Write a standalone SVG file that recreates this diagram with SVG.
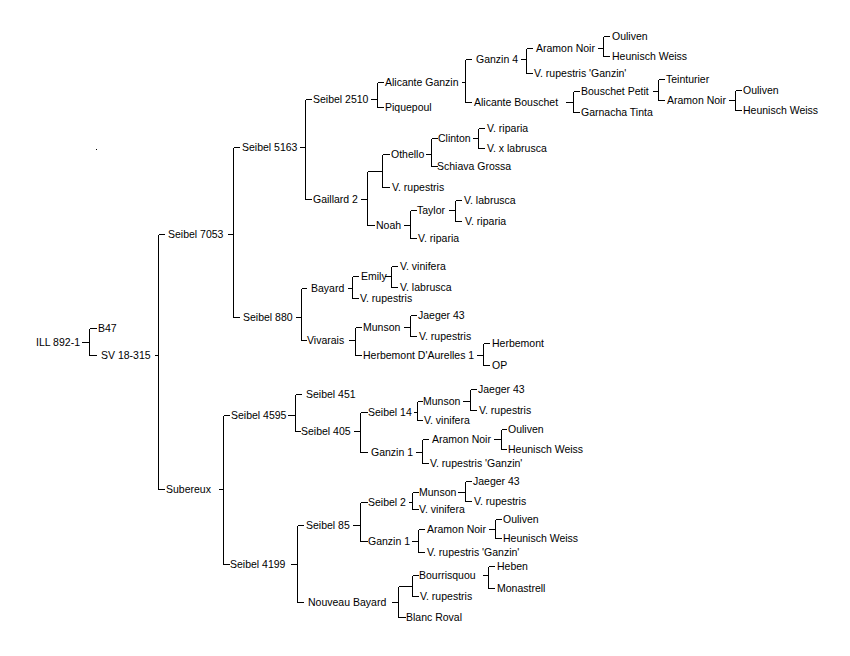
<svg xmlns="http://www.w3.org/2000/svg" width="850" height="656" viewBox="0 0 850 656">
<style>
text{font-family:"Liberation Sans",Arial,sans-serif;font-size:10.5px;fill:#000}
.c path{fill:none;stroke:#000;stroke-width:1;shape-rendering:crispEdges}
</style>
<rect width="850" height="656" fill="#fff"/>
<rect x="96" y="149" width="1" height="1" fill="#000"/>
<g class="c" id="connectors" transform="translate(0.5,0.5)">
<path d="M81 342H89M89 328V355M89 328H96M89 355H96"/>
<path d="M154 355H158M158 234V489M158 234H164M158 489H164"/>
<path d="M227 234H233M233 147V317M233 147H239M233 317H239"/>
<path d="M299 147H305M305 99V199M305 99H311M305 199H311"/>
<path d="M370 99H377M377 82V107M377 82H383M377 107H383"/>
<path d="M461 82H465M465 59V102M465 59H471M465 102H471"/>
<path d="M520 59H526M526 48V73M526 48H532M526 73H532"/>
<path d="M597 48H603M603 36V56M603 36H609M603 56H609"/>
<path d="M565 102H573M573 91V112M573 91H579M573 112H579"/>
<path d="M652 91H658M658 79V100M658 79H664M658 100H664"/>
<path d="M728 100H735M735 90V110M735 90H741M735 110H741"/>
<path d="M360 199H367M367 171V225M367 171H382M382 154V187M382 154H389M382 187H389M367 225H374"/>
<path d="M425 154H431M431 138V166M431 138H437M431 166H437"/>
<path d="M472 138H478M478 128V148M478 128H484M478 148H484"/>
<path d="M403 225H410M410 210V238M410 210H416M410 238H416"/>
<path d="M448 210H455M455 200V221M455 200H461M455 221H461"/>
<path d="M295 317H301M301 288V340M301 288H306M301 340H306"/>
<path d="M347 288H352M352 276V298M352 276H358M352 298H358"/>
<path d="M384 276H391M391 266V287M391 266H397M391 287H397"/>
<path d="M348 340H355M355 327V355M355 327H361M355 355H361"/>
<path d="M403 327H410M410 315V336M410 315H416M410 336H416"/>
<path d="M476 355H483M483 343V365M483 343H489M483 365H489"/>
<path d="M218 489H223M223 415V564M223 415H229M223 564H229"/>
<path d="M287 415H295M295 394V431M295 394H301M295 431H300"/>
<path d="M353 431H360M360 412V452M360 412H367M360 452H367"/>
<path d="M413 412H417M417 401V420M417 401H422M417 420H422"/>
<path d="M462 401H470M470 389V410M470 389H476M470 410H476"/>
<path d="M415 452H422M422 439V463M422 439H428M422 463H428"/>
<path d="M493 439H501M501 429V449M501 429H506M501 449H506"/>
<path d="M290 564H297M297 525V602M297 525H303M297 602H303"/>
<path d="M352 525H360M360 502V541M360 502H367M360 541H367"/>
<path d="M408 502H412M412 492V509M412 492H418M412 509H418"/>
<path d="M457 492H465M465 481V501M465 481H471M465 501H471"/>
<path d="M411 541H418M418 529V552M418 529H424M418 552H424"/>
<path d="M488 529H495M495 519V538M495 519H501M495 538H501"/>
<path d="M391 602H398M398 586V617M398 586H412M412 575V596M412 575H418M412 596H418M398 617H405"/>
<path d="M482 575H488M488 566V588M488 566H494M488 588H494"/>
</g>
<g id="n_ill"><text x="36" y="346">ILL 892-1</text></g>
<g id="n_b47"><text x="98" y="332">B47</text></g>
<g id="n_sv"><text x="101" y="359">SV 18-315</text></g>
<g id="n_s7053"><text x="168" y="238">Seibel 7053</text></g>
<g id="n_sub"><text x="166" y="493">Subereux</text></g>
<g id="n_s5163"><text x="242" y="151">Seibel 5163</text></g>
<g id="n_s880"><text x="243" y="321">Seibel 880</text></g>
<g id="n_s2510"><text x="313" y="103">Seibel 2510</text></g>
<g id="n_gail"><text x="313" y="203">Gaillard 2</text></g>
<g id="n_alig"><text x="385" y="86">Alicante Ganzin</text></g>
<g id="n_piq"><text x="385" y="111">Piquepoul</text></g>
<g id="n_g4"><text x="476" y="63">Ganzin 4</text></g>
<g id="n_an1"><text x="536" y="52">Aramon Noir</text></g>
<g id="n_ou1"><text x="612" y="40">Ouliven</text></g>
<g id="n_hw1"><text x="612" y="60">Heunisch Weiss</text></g>
<g id="n_vrg1"><text x="534" y="77">V. rupestris 'Ganzin'</text></g>
<g id="n_alib"><text x="474" y="106">Alicante Bouschet</text></g>
<g id="n_bp"><text x="581" y="95">Bouschet Petit</text></g>
<g id="n_tein"><text x="666" y="83">Teinturier</text></g>
<g id="n_an2"><text x="667" y="104">Aramon Noir</text></g>
<g id="n_ou2"><text x="743" y="94">Ouliven</text></g>
<g id="n_hw2"><text x="743" y="114">Heunisch Weiss</text></g>
<g id="n_gt"><text x="581" y="116">Garnacha Tinta</text></g>
<g id="n_oth"><text x="391" y="158">Othello</text></g>
<g id="n_clin"><text x="438" y="142">Clinton</text></g>
<g id="n_vrip1"><text x="487" y="132">V. riparia</text></g>
<g id="n_vxl"><text x="487" y="152">V. x labrusca</text></g>
<g id="n_sg"><text x="437" y="170">Schiava Grossa</text></g>
<g id="n_vrup1"><text x="392" y="191">V. rupestris</text></g>
<g id="n_noah"><text x="376" y="229">Noah</text></g>
<g id="n_tay"><text x="417" y="214">Taylor</text></g>
<g id="n_vlab1"><text x="464" y="204">V. labrusca</text></g>
<g id="n_vrip2"><text x="465" y="225">V. riparia</text></g>
<g id="n_vrip3"><text x="418" y="242">V. riparia</text></g>
<g id="n_bay"><text x="311" y="292">Bayard</text></g>
<g id="n_emily"><text x="361" y="280">Emily</text></g>
<g id="n_vvin1"><text x="400" y="270">V. vinifera</text></g>
<g id="n_vlab2"><text x="400" y="291">V. labrusca</text></g>
<g id="n_vrup2"><text x="360" y="302">V. rupestris</text></g>
<g id="n_viv"><text x="307" y="344">Vivarais</text></g>
<g id="n_mun1"><text x="363" y="331">Munson</text></g>
<g id="n_j1"><text x="418" y="319">Jaeger 43</text></g>
<g id="n_vrup3"><text x="419" y="340">V. rupestris</text></g>
<g id="n_hda"><text x="363" y="359">Herbemont D'Aurelles 1</text></g>
<g id="n_herb"><text x="492" y="347">Herbemont</text></g>
<g id="n_op"><text x="492" y="369">OP</text></g>
<g id="n_s4595"><text x="231" y="419">Seibel 4595</text></g>
<g id="n_s451"><text x="306" y="398">Seibel 451</text></g>
<g id="n_s405"><text x="301" y="435">Seibel 405</text></g>
<g id="n_s14"><text x="368" y="416">Seibel 14</text></g>
<g id="n_mun2"><text x="423" y="405">Munson</text></g>
<g id="n_j2"><text x="478" y="393">Jaeger 43</text></g>
<g id="n_vrup4"><text x="479" y="414">V. rupestris</text></g>
<g id="n_vvin2"><text x="424" y="424">V. vinifera</text></g>
<g id="n_g1a"><text x="371" y="456">Ganzin 1</text></g>
<g id="n_an3"><text x="432" y="443">Aramon Noir</text></g>
<g id="n_ou3"><text x="508" y="433">Ouliven</text></g>
<g id="n_hw3"><text x="508" y="453">Heunisch Weiss</text></g>
<g id="n_vrg2"><text x="430" y="467">V. rupestris 'Ganzin'</text></g>
<g id="n_s4199"><text x="230" y="568">Seibel 4199</text></g>
<g id="n_s85"><text x="306" y="529">Seibel 85</text></g>
<g id="n_s2"><text x="368" y="506">Seibel 2</text></g>
<g id="n_mun3"><text x="419" y="496">Munson</text></g>
<g id="n_j3"><text x="473" y="485">Jaeger 43</text></g>
<g id="n_vrup5"><text x="474" y="505">V. rupestris</text></g>
<g id="n_vvin3"><text x="419" y="513">V. vinifera</text></g>
<g id="n_g1b"><text x="368" y="545">Ganzin 1</text></g>
<g id="n_an4"><text x="427" y="533">Aramon Noir</text></g>
<g id="n_ou4"><text x="503" y="523">Ouliven</text></g>
<g id="n_hw4"><text x="503" y="542">Heunisch Weiss</text></g>
<g id="n_vrg3"><text x="427" y="556">V. rupestris 'Ganzin'</text></g>
<g id="n_nb"><text x="308" y="606">Nouveau Bayard</text></g>
<g id="n_bour"><text x="419" y="579">Bourrisquou</text></g>
<g id="n_heb"><text x="497" y="570">Heben</text></g>
<g id="n_mon"><text x="497" y="592">Monastrell</text></g>
<g id="n_vrup6"><text x="420" y="600">V. rupestris</text></g>
<g id="n_br"><text x="406" y="621">Blanc Roval</text></g>
</svg>
